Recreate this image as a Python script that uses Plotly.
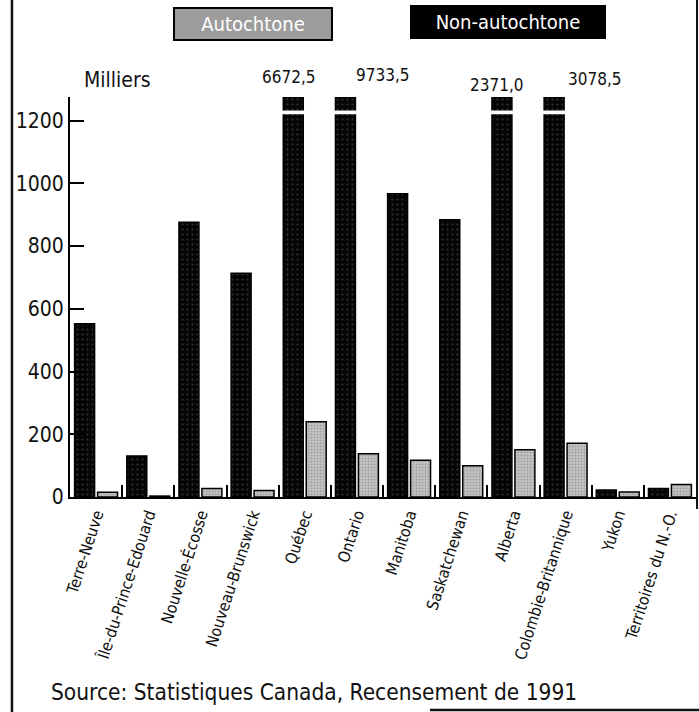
import plotly.graph_objects as go

provinces = ["Terre-Neuve", "Île-du-Prince-Edouard", "Nouvelle-Écosse", "Nouveau-Brunswick",
             "Québec", "Ontario", "Manitoba", "Saskatchewan", "Alberta",
             "Colombie-Britannique", "Yukon", "Territoires du N.-O."]
non_autochtone = [552, 131, 876, 713, 6672.5, 9733.5, 967, 884, 2371.0, 3078.5, 22, 27]
autochtone = [15, 3, 27, 21, 240, 138, 117, 100, 151, 171, 16, 40]
y_ticks = [0, 200, 400, 600, 800, 1000, 1200]
y_max = 1275

FONT = "DejaVu Sans Condensed, Roboto, sans-serif"

fig = go.Figure()
fig.add_trace(go.Bar(
    x=provinces, y=non_autochtone, name="Non-autochtone",
    marker=dict(color="#050505", line=dict(color="#000000", width=1.5),
                pattern=dict(shape=".", fgcolor="#5e5e5e", bgcolor="#050505",
                             size=5, solidity=0.15)),
))
fig.add_trace(go.Bar(
    x=provinces, y=autochtone, name="Autochtone",
    marker=dict(color="#bdbdbd", line=dict(color="#000000", width=1.5),
                pattern=dict(shape=".", fgcolor="#7a7a7a", bgcolor="#c4c4c4",
                             size=3, solidity=0.35)),
))

# value labels for bars exceeding the axis
label_xshift = [-16, 26, -16, 29]
label_y = [1.05, 1.055, 1.03, 1.045]
broken = [(p, v) for p, v in zip(provinces, non_autochtone) if v > y_max]
for (p, v), xs, yy in zip(broken, label_xshift, label_y):
    fig.add_annotation(x=p, y=yy, xref="x", yref="paper", xshift=xs, xanchor="center",
                       yanchor="middle",
                       text=f"{v:.1f}".replace(".", ","), showarrow=False,
                       font=dict(family=FONT, size=17, color="#111"))

shapes = [
    # break band across broken bars
    dict(type="rect", xref="paper", yref="y", x0=0.33, x1=0.86, y0=1220, y1=1232,
         fillcolor="white", line=dict(width=0), layer="above"),
    # frame lines
    dict(type="line", xref="paper", yref="paper", x0=-0.0927, x1=-0.0927, y0=1.245, y1=-0.54,
         line=dict(color="#111", width=2.5)),
    dict(type="line", xref="paper", yref="paper", x0=1.0016, x1=1.0016, y0=1.245, y1=-0.03,
         line=dict(color="#111", width=2)),
    dict(type="line", xref="paper", yref="paper", x0=0.575, x1=1.01, y0=-0.5325, y1=-0.5325,
         line=dict(color="#111", width=2.5)),
]

fig.add_annotation(x=0.019, y=1.0425, xref="paper", yref="paper", xanchor="left",
                   yanchor="middle",
                   text="Milliers", showarrow=False,
                   font=dict(family=FONT, size=21, color="#111"))
fig.add_annotation(x=0.292, y=1.1825, xref="paper", yref="paper", xanchor="center",
                   yanchor="middle",
                   text="Autochtone", showarrow=False, width=152, height=26,
                   bgcolor="#9c9c9c", bordercolor="#000", borderwidth=2, borderpad=2,
                   font=dict(family=FONT, size=20, color="#ffffff"))
fig.add_annotation(x=0.70, y=1.1875, xref="paper", yref="paper", xanchor="center",
                   yanchor="middle",
                   text="Non-autochtone", showarrow=False, width=188, height=26,
                   bgcolor="#000000", bordercolor="#000", borderwidth=2, borderpad=2,
                   font=dict(family=FONT, size=20, color="#ffffff"))
fig.add_annotation(x=-0.033, y=-0.4875, xref="paper", yref="paper", xanchor="left",
                   yanchor="middle",
                   text="Source: Statistiques Canada, Recensement de 1991", showarrow=False,
                   font=dict(family=FONT, size=22.5, color="#111"))

fig.update_layout(
    width=699, height=712,
    margin=dict(l=70, r=3, t=97, b=215, autoexpand=False),
    paper_bgcolor="white", plot_bgcolor="white",
    barmode="group", bargap=0.12, bargroupgap=0.13,
    showlegend=False,
    shapes=shapes,
    font=dict(family=FONT, color="#111"),
)
fig.update_xaxes(
    automargin=False,
    showline=True, linecolor="#000", linewidth=2,
    ticks="inside", tickson="boundaries", ticklen=12, tickwidth=1.5, tickcolor="#000",
    tickangle=-72, tickfont=dict(family=FONT, size=16, color="#111"),
    showgrid=False, zeroline=False,
)
fig.update_yaxes(
    automargin=False,
    range=[0, y_max], tickvals=y_ticks, showline=True, linecolor="#000", linewidth=2,
    ticks="inside", ticklen=14, tickwidth=2, tickcolor="#000",
    tickfont=dict(family=FONT, size=21, color="#111"),
    showgrid=False, zeroline=False,
)

post = ("document.body.style.margin='0px';document.body.style.overflow='hidden';"
        "var gd=document.getElementById('{plot_id}');"
        "Plotly.relayout(gd,{width:699,height:712});")
fig.write_html("out.html", config={"responsive": False, "displayModeBar": False},
               post_script=post)
